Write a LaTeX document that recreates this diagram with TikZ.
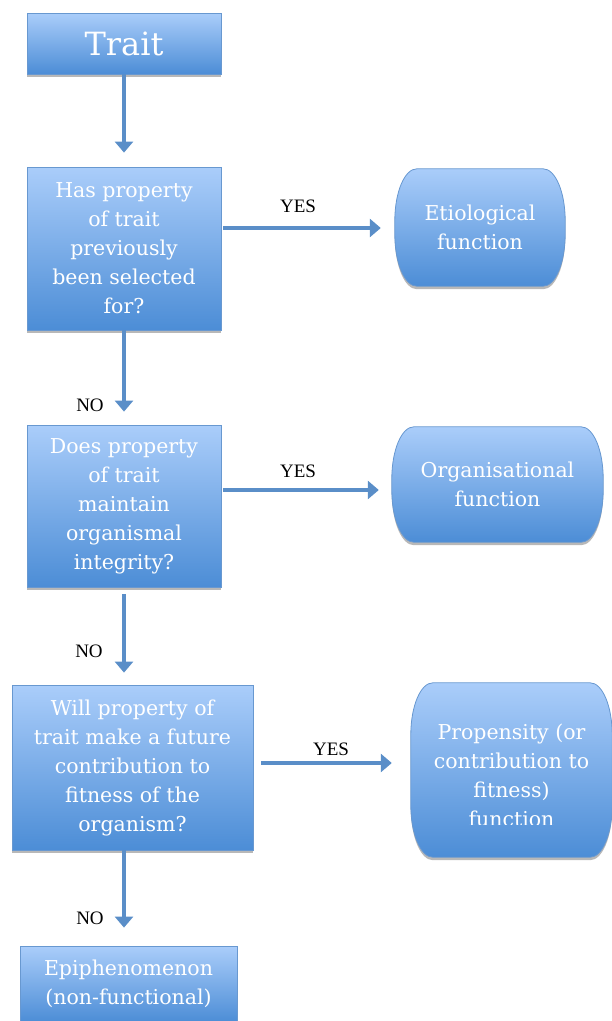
\documentclass[tikz,border=0pt]{standalone}
\usepackage{fontspec}
\setmainfont{Liberation Serif}
\newfontfamily\boxfont{DejaVu Serif}
\usetikzlibrary{arrows.meta,shadows,calc,backgrounds}
\definecolor{boxtop}{RGB}{170,205,250}
\definecolor{boxbot}{RGB}{76,141,214}
\definecolor{boxedge}{RGB}{104,152,208}
\definecolor{arrcol}{RGB}{90,142,200}
\tikzset{
  boxshadow/.style={drop shadow={shadow xshift=0pt,shadow yshift=-3pt,opacity=0.28,fill=black}},
  qbox/.style={rectangle,draw=boxedge,line width=0.8pt,top color=boxtop,bottom color=boxbot,
    text=white,align=center,inner sep=0pt,boxshadow,font=\boxfont\fontsize{20.5}{29}\selectfont},
  pillpath/.style={draw=boxedge,line width=0.8pt,top color=boxtop,bottom color=boxbot,boxshadow},
  frame/.style={rectangle,inner sep=0pt,text=white,align=center,font=\boxfont\fontsize{20.5}{29}\selectfont},
  arr/.style={draw=arrcol,line width=4pt,-{Triangle[width=18pt,length=11pt]}},
  lbl/.style={font=\fontsize{19}{20}\selectfont,text=black,inner sep=0pt}
}
\newcommand\drawpill[1]{%
  \begin{scope}[on background layer]
  \path[pillpath] ($(#1.north west)+(22pt,0pt)$) -- ($(#1.north east)+(-22pt,0pt)$)
    arc[start angle=90,end angle=0,x radius=22pt,y radius=52pt]
    -- ($(#1.south east)+(0pt,52pt)$)
    arc[start angle=0,end angle=-90,x radius=22pt,y radius=52pt]
    -- ($(#1.south west)+(22pt,0pt)$)
    arc[start angle=270,end angle=180,x radius=22pt,y radius=52pt]
    -- ($(#1.north west)+(0pt,-52pt)$)
    arc[start angle=180,end angle=90,x radius=22pt,y radius=52pt] -- cycle;
  \end{scope}}
\begin{document}
\begin{tikzpicture}[x=1pt,y=-1pt]
\clip (0,0) rectangle (612,1021);
% question boxes
\node[qbox,minimum width=194pt,minimum height=61pt,font=\boxfont\fontsize{32}{36}\selectfont] (trait) at (124,43.5) {Trait};
\node[qbox,minimum width=194pt,minimum height=163pt] (q1) at (124,248.5) {Has property\\of trait\\previously\\been selected\\for?};
\node[qbox,minimum width=194pt,minimum height=162pt] (q2) at (124,506) {Does property\\of trait\\maintain\\organismal\\integrity?};
\node[qbox,minimum width=241pt,minimum height=165pt] (q3) at (132.5,767.5) {Will property of\\trait make a future\\contribution to\\fitness of the\\organism?};
\node[qbox,minimum width=217pt,minimum height=76pt] (epi) at (128.5,984) {Epiphenomenon\\(non-functional)};
% rounded outcome boxes
\node[frame,minimum width=170pt,minimum height=117pt] (etio) at (480,227.5) {Etiological\\function};
\drawpill{etio}
\node[frame,minimum width=211pt,minimum height=115pt] (org) at (497.5,484.5) {Organisational\\function};
\drawpill{org}
\node[frame,minimum width=201pt,minimum height=174pt] (prop) at (511.5,770) {};
\drawpill{prop}
\begin{scope}
\clip (400,680) rectangle (612,824);
\node[frame] (proptext) at (511.5,775) {Propensity (or\\contribution to\\fitness)\\function};
\end{scope}
% vertical arrows
\draw[arr,shorten >=14pt] (trait.south) -- (trait.south |- q1.north);
\draw[arr,shorten >=13pt] (q1.south) -- (q1.south |- q2.north);
\draw[arr,shorten <=7pt,shorten >=12pt] (q2.south) -- (q2.south |- q3.north);
\draw[arr,shorten >=18pt] (q1.south |- q3.south) -- (q1.south |- epi.north);
% horizontal arrows
\draw[arr,shorten <=2pt,shorten >=14pt] ([yshift=20.5pt]q1.east) coordinate (a1) -- (a1 -| etio.west);
\draw[arr,shorten <=2pt,shorten >=13pt] ([yshift=16pt]q2.east) coordinate (a2) -- (a2 -| org.west);
\draw[arr,shorten <=8pt,shorten >=19pt] ([yshift=4.5pt]q3.east) coordinate (a3) -- (a3 -| prop.west);
% labels
\node[lbl] (yes1) at (298,206) {YES};
\node[lbl] (yes2) at (298,471) {YES};
\node[lbl] (yes3) at (331,749) {YES};
\node[lbl] (no1) at (90,405) {NO};
\node[lbl] (no2) at (89,651) {NO};
\node[lbl] (no3) at (90,918) {NO};
\end{tikzpicture}
\end{document}
